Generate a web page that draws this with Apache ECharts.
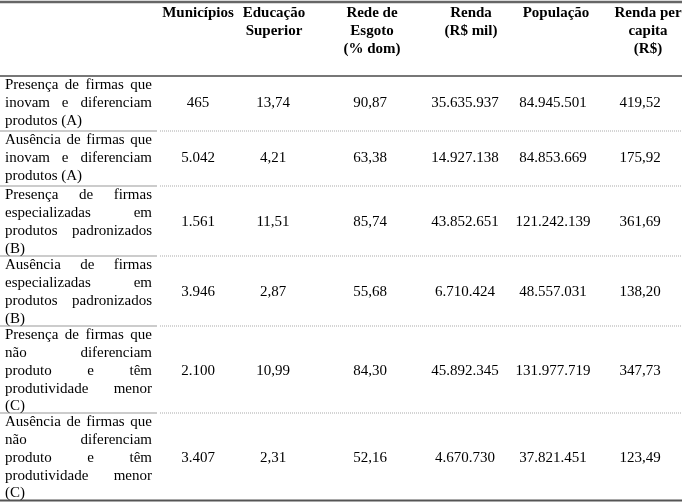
<!DOCTYPE html>
<html><head><meta charset="utf-8">
<script src="https://cdn.jsdelivr.net/npm/echarts@6/dist/echarts.min.js"></script>
<style>html,body{margin:0;padding:0;background:#fff}#c{width:682px;height:502px}</style>
</head><body><div id="c"></div>
<script>
// ---------- DATA ----------
const headers = [["Municípios"], ["Educação", "Superior"], ["Rede de", "Esgoto", "(% dom)"], ["Renda", "(R$ mil)"], ["População"], ["Renda per", "capita", "(R$)"]];
const rowLabels = [
  ["Presença de firmas que", "inovam e diferenciam", "produtos (A)"],
  ["Ausência de firmas que", "inovam e diferenciam", "produtos (A)"],
  ["Presença de firmas", "especializadas em", "produtos padronizados", "(B)"],
  ["Ausência de firmas", "especializadas em", "produtos padronizados", "(B)"],
  ["Presença de firmas que", "não diferenciam", "produto e têm", "produtividade menor", "(C)"],
  ["Ausência de firmas que", "não diferenciam", "produto e têm", "produtividade menor", "(C)"]
];
const municipios = [465, 5042, 1561, 3946, 2100, 3407];
const educacaoSuperior = [13.74, 4.21, 11.51, 2.87, 10.99, 2.31];
const redeEsgoto = [90.87, 63.38, 85.74, 55.68, 84.30, 52.16];
const renda = [35635937, 14927138, 43852651, 6710424, 45892345, 4670730];
const populacao = [84945501, 84853669, 121242139, 48557031, 131977719, 37821451];
const rendaPerCapita = [419.52, 175.92, 361.69, 138.20, 347.73, 123.49];

// ---------- LAYOUT ----------
const W = 682, H = 502;
const FONT = '"Liberation Serif", "Times New Roman", serif';
const FS = 15;
const labelLeft = 5, labelRight = 152;
const headerX = [198, 274, 372, 471, 556, 648];
const valueX = [198, 273, 370, 465, 553, 640];
const headerLineY = [13, 31, 49];
const rowTops = [76, 131, 186, 256, 326, 413];
const tableBottom = 500.5;
const lineGap = 17.7;
const firstOffset = 9.5;

function fmtInt(n) { return String(Math.round(n)).replace(/\B(?=(\d{3})+(?!\d))/g, '.'); }
function fmtDec(n) { return n.toFixed(2).replace('.', ','); }
const columns = [
  municipios.map(fmtInt), educacaoSuperior.map(fmtDec), redeEsgoto.map(fmtDec),
  renda.map(fmtInt), populacao.map(fmtInt), rendaPerCapita.map(fmtDec)
];

const ctx = document.createElement('canvas').getContext('2d');
ctx.font = FS + 'px ' + FONT;
const items = [];
headers.forEach((lines, c) => lines.forEach((t, i) => items.push({x: headerX[c], y: headerLineY[i], text: t, align: 'center', bold: true})));
rowLabels.forEach((lines, r) => {
  const top = rowTops[r];
  lines.forEach((line, i) => {
    const y = top + firstOffset + i * lineGap;
    const words = line.split(' ');
    const last = i === lines.length - 1;
    if (last || words.length === 1) {
      items.push({x: labelLeft, y, text: line, align: 'left'});
    } else {
      const ws = words.map(w => ctx.measureText(w).width);
      const tot = ws.reduce((a, b) => a + b, 0);
      const gap = (labelRight - labelLeft - tot) / (words.length - 1);
      let x = labelLeft;
      words.forEach((w, k) => { items.push({x, y, text: w, align: 'left'}); x += ws[k] + gap; });
    }
  });
  const yMid = top + firstOffset + (lines.length - 1) * lineGap / 2;
  columns.forEach((col, c) => items.push({x: valueX[c], y: yMid, text: col[r], align: 'center'}));
});

const rules = [];
rules.push([0, 2, W, 2, 'top']);
rules.push([0, 76, W, 76, 'head']);
rowTops.slice(1).forEach(y => { rules.push([0, y, 157, y, 'sepA']); rules.push([160, y, W, y, 'sepB']); });
rules.push([0, tableBottom, W, tableBottom, 'bottom']);
const ruleStyle = {
  top: {stroke: '#666', lineWidth: 2.5},
  head: {stroke: '#777', lineWidth: 2},
  sepA: {stroke: '#999', lineWidth: 1},
  sepB: {stroke: '#aaa', lineWidth: 1, lineDash: [1, 1]},
  bottom: {stroke: '#555', lineWidth: 2}
};

const chart = echarts.init(document.getElementById('c'), null, {renderer: 'canvas'});
chart.setOption({
  animation: false,
  backgroundColor: '#fff',
  grid: {left: 0, right: 0, top: 0, bottom: 0},
  xAxis: {type: 'value', min: 0, max: W, show: false},
  yAxis: {type: 'value', min: 0, max: H, inverse: true, show: false},
  series: [
    {
      type: 'custom', silent: true,
      data: rules.map(r => [r[0], r[1], r[2], r[3]]),
      encode: {x: [0, 2], y: [1, 3]},
      renderItem: function (params, api) {
        const r = rules[params.dataIndex];
        const a = api.coord([r[0], r[1]]), b = api.coord([r[2], r[3]]);
        return {type: 'line', shape: {x1: a[0], y1: a[1], x2: b[0], y2: b[1]}, style: Object.assign({fill: null}, ruleStyle[r[4]])};
      }
    },
    {
      type: 'custom', silent: true,
      data: items.map(it => [it.x, it.y]),
      encode: {x: 0, y: 1},
      renderItem: function (params, api) {
        const it = items[params.dataIndex];
        const p = api.coord([api.value(0), api.value(1)]);
        return {type: 'text', x: p[0], y: p[1], style: {
          text: it.text, fill: '#000', align: it.align, verticalAlign: 'middle',
          fontFamily: FONT, fontSize: FS, fontWeight: it.bold ? 'bold' : 'normal'
        }};
      }
    }
  ]
});
</script></body></html>
